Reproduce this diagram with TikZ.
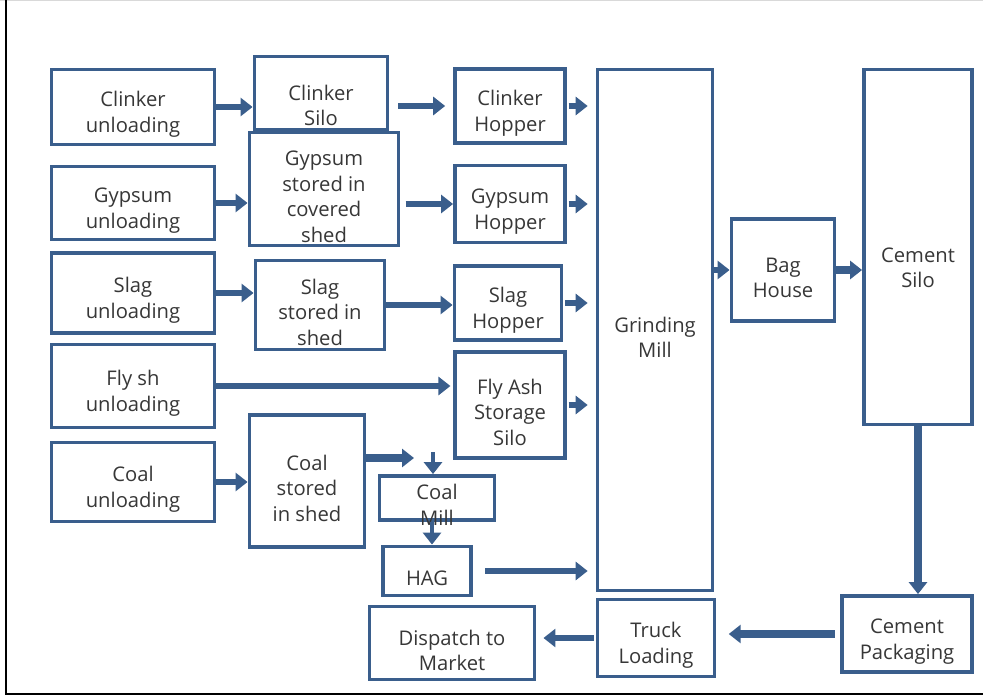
\documentclass[tikz,border=0pt]{standalone}
\usepackage{fontspec}
\setmainfont{Open Sans}
\usepackage{tikz}
\usetikzlibrary{positioning,arrows.meta,calc}
\definecolor{cmblue}{RGB}{58,94,140}
\definecolor{cmtext}{RGB}{55,55,55}
% strut that drops a box's text a little, as in the source slide
\newcommand{\lowtext}[1][17pt]{\rule{0pt}{#1}}

\begin{document}
\begin{tikzpicture}[
  x=0.02cm, y=-0.02cm,
  txt/.style={font=\fontsize{11.5}{14.5}\selectfont, text=cmtext, align=center},
  box/.style={draw=cmblue, line width=2.2pt, fill=white, inner sep=1pt, txt},
  sz/.style 2 args={minimum width=#1*0.02cm, minimum height=#2*0.02cm},
  arr/.style={-{Triangle[length=0.24cm, width=0.36cm]}, line width=3.4pt, cmblue},
  marr/.style={arr, shorten <=1pt, shorten >=4.5pt}
]
  \useasboundingbox (0,0) rectangle (983,699);
  % --- page frame ---
  \draw[black!15, line width=0.8pt] (0,0.5) -- (983,0.5);
  \draw[black, line width=1.6pt] (6,0) -- (6,694) -- (983,694);

  % --- Unloading column ---
  \node[box, sz={163}{75}] (cu) at (133,107) {\lowtext Clinker\\unloading};
  \node[box, sz={163}{73}] (gu) at (133,203) {\lowtext Gypsum\\unloading};
  \node[box, sz={163}{80}] (su) at (133,293) {\lowtext Slag\\unloading};
  \node[box, sz={163}{83}] (fu) at (133,386) {\lowtext Fly sh\\unloading};
  \node[box, sz={163}{79}] (ku) at (133,482) {\lowtext Coal\\unloading};

  % --- Storage column ---
  \node[box, sz={133}{73}]  (cs) at (321,93)  {\lowtext[23pt]Clinker\\Silo};
  \node[box, sz={149}{113}, inner sep=0pt] (gs) at (324,189) {\lowtext Gypsum\\stored in\\covered\\shed};
  \node[box, sz={129}{89}]  (ss) at (320,305) {\lowtext Slag\\stored in\\shed};
  \node[box, sz={115}{132}] (ks) at (307,481) {\lowtext Coal\\stored\\in shed};

  % --- Hoppers ---
  \node[box, sz={110}{74}]  (ch) at (510,106) {\lowtext Clinker\\Hopper};
  \node[box, sz={110}{77}]  (gh) at (510,204) {\lowtext Gypsum\\Hopper};
  \node[box, sz={107}{74}]  (sh) at (508,303) {\lowtext Slag\\Hopper};
  \node[box, sz={110}{106}] (fs) at (510,405) {\lowtext Fly Ash\\Storage\\Silo};
  \node[box, sz={115}{44},
    label={[txt, yshift=-0.14cm]center:Coal\\Mill}] (km) at (437,498) {};
  \node[box, sz={88}{49}]   (hag) at (427,571) {\lowtext HAG};

  % --- Mill and cement side ---
  \node[box, sz={115}{521}] (gm)  at (655,330) {\lowtext Grinding\\Mill};
  \node[box, sz={103}{102}] (bh)  at (783,270) {\lowtext Bag\\House};
  \node[box, sz={108}{355}] (csl) at (918,247) {\lowtext[32pt]Cement\\Silo};
  \node[box, sz={130}{76}]  (cp)  at (907,634) {\lowtext Cement\\Packaging};
  \node[box, sz={117}{77}]  (tl)  at (656,638) {\lowtext Truck\\Loading};
  \node[box, sz={165}{73}]  (dm)  at (452,643) {\lowtext Dispatch to\\Market};

  % --- Unloading to storage ---
  \draw[arr] (cu.east) -- (cu.east -| cs.west);
  \draw[arr] (gu.east) -- (gu.east -| gs.west);
  \draw[arr] (su.east) -- (su.east -| ss.west);
  \draw[arr] (ku.east) -- (ku.east -| ks.west);
  \draw[arr, shorten >=1.5pt] (fu.east) -- (fu.east -| fs.west);

  % --- Storage to hoppers ---
  \draw[arr, shorten <=5pt, shorten >=4.5pt] (ch.west -| cs.east) -- (ch.west);
  \draw[arr, shorten <=3pt] (gh.west -| gs.east) -- (gh.west);
  \draw[arr] (ss.east) -- (ss.east -| sh.west);

  % --- Coal line ---
  \coordinate (kend) at (414,458);
  \coordinate (ktop) at (433,452);
  \draw[arr, line width=4pt] (kend -| ks.east) -- (kend);
  \draw[arr, line width=2.6pt] (ktop) -- (ktop |- km.north);
  \draw[arr, line width=2.6pt] ([xshift=-0.1cm]km.south) -- ([xshift=-0.1cm]km.south |- hag.north);

  % --- Hoppers to mill ---
  \draw[marr] (ch.east) -- (ch.east -| gm.west);
  \draw[marr] (gh.east) -- (gh.east -| gm.west);
  \draw[marr] (sh.east) -- (sh.east -| gm.west);
  \draw[marr] (fs.east) -- (fs.east -| gm.west);
  \draw[marr, shorten <=7pt] (hag.east) -- (hag.east -| gm.west);

  % --- Mill to dispatch ---
  \draw[arr] (bh.west -| gm.east) -- (bh.west);
  \draw[arr, line width=4pt] (bh.east) -- (bh.east -| csl.west);
  \draw[arr, line width=4.6pt] (csl.south) -- (csl.south |- cp.north);
  \draw[arr, line width=4pt, shorten <=3pt, shorten >=7pt] (cp.west) -- (cp.west -| tl.east);
  \draw[arr, shorten <=1pt, shorten >=4pt] (tl.west) -- (tl.west -| dm.east);
\end{tikzpicture}
\end{document}
